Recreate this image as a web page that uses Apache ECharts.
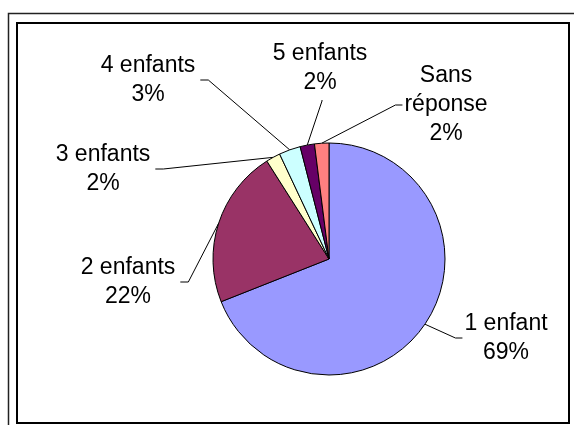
<!DOCTYPE html>
<html>
<head>
<meta charset="utf-8">
<script src="https://cdn.jsdelivr.net/npm/echarts@6/dist/echarts.min.js"></script>
<style>
  html, body { margin: 0; padding: 0; background: #fff; }
  #main { width: 574px; height: 425px; }
</style>
</head>
<body>
<div id="main"></div>
<script>
// nombre d'enfants (%)
var categories = ['1 enfant', '2 enfants', '3 enfants', '4 enfants', '5 enfants', 'Sans\nréponse'];
var values = [69, 22, 2, 3, 2, 2];
var colors = ['#9999FF', '#993366', '#FFFFCC', '#CCFFFF', '#660066', '#FF8080'];

// placement des étiquettes (centre du bloc texte) et côté d'accroche du trait
var labelPos = [
    { x: 506, y: 338, side: 'right' },
    { x: 128, y: 282, side: 'left' },
    { x: 103, y: 169, side: 'left' },
    { x: 148, y: 80, side: 'left' },
    { x: 320, y: 68, side: 'bottom' },
    { x: 446, y: 105, side: 'right' }
];

var myChart = echarts.init(document.getElementById('main'));

var pieData = [];
for (var i = 0; i < categories.length; i++) {
    pieData.push({
        name : categories[i],
        value : values[i],
        itemStyle : { color : colors[i] }
    });
}

function placeLabel(p) {
    var pos = labelPos[p.dataIndex];
    var w = p.labelRect.width, h = p.labelRect.height;
    var start = p.labelLinePoints ? p.labelLinePoints[0] : [329, 259];
    var end, elbow;
    if (pos.side == 'left') {
        end = [pos.x + w / 2 + 5, pos.y];
        elbow = [end[0] + 8, pos.y];
    } else if (pos.side == 'right') {
        end = [pos.x - w / 2 - 2, pos.y];
        elbow = [end[0] - 7, pos.y];
    } else {
        end = [pos.x + 2, pos.y + h / 2 + 3];
        elbow = [end[0], end[1] + 1];
    }
    return {
        x : pos.x,
        y : pos.y,
        align : 'center',
        verticalAlign : 'middle',
        labelLinePoints : [start, elbow, end]
    };
}

var option = {
    animation : false,
    graphic : [{
        type : 'rect',
        shape : { x : 8.5, y : 13.5, width : 600, height : 500 },
        style : { fill : null, stroke : '#222', lineWidth : 1.5 }
    }, {
        type : 'rect',
        shape : { x : 17, y : 23, width : 552, height : 400 },
        style : { fill : null, stroke : '#000', lineWidth : 2 }
    }],
    series : [{
        type : 'pie',
        center : [329, 259],
        radius : 116,
        startAngle : 90,
        clockwise : true,
        avoidLabelOverlap : false,
        data : pieData,
        itemStyle : {
            borderColor : '#000',
            borderWidth : 1
        },
        label : {
            show : true,
            position : 'outside',
            formatter : '{b}\n{d}%',
            fontFamily : 'Liberation Sans, Arial, sans-serif',
            fontSize : 23,
            lineHeight : 29,
            color : '#000',
            align : 'center'
        },
        labelLine : {
            show : true,
            length : 10,
            length2 : 10,
            smooth : false,
            lineStyle : { color : '#000', width : 1 }
        },
        labelLayout : placeLabel,
        emphasis : { disabled : true }
    }]
};
myChart.setOption(option);
</script>
</body>
</html>
